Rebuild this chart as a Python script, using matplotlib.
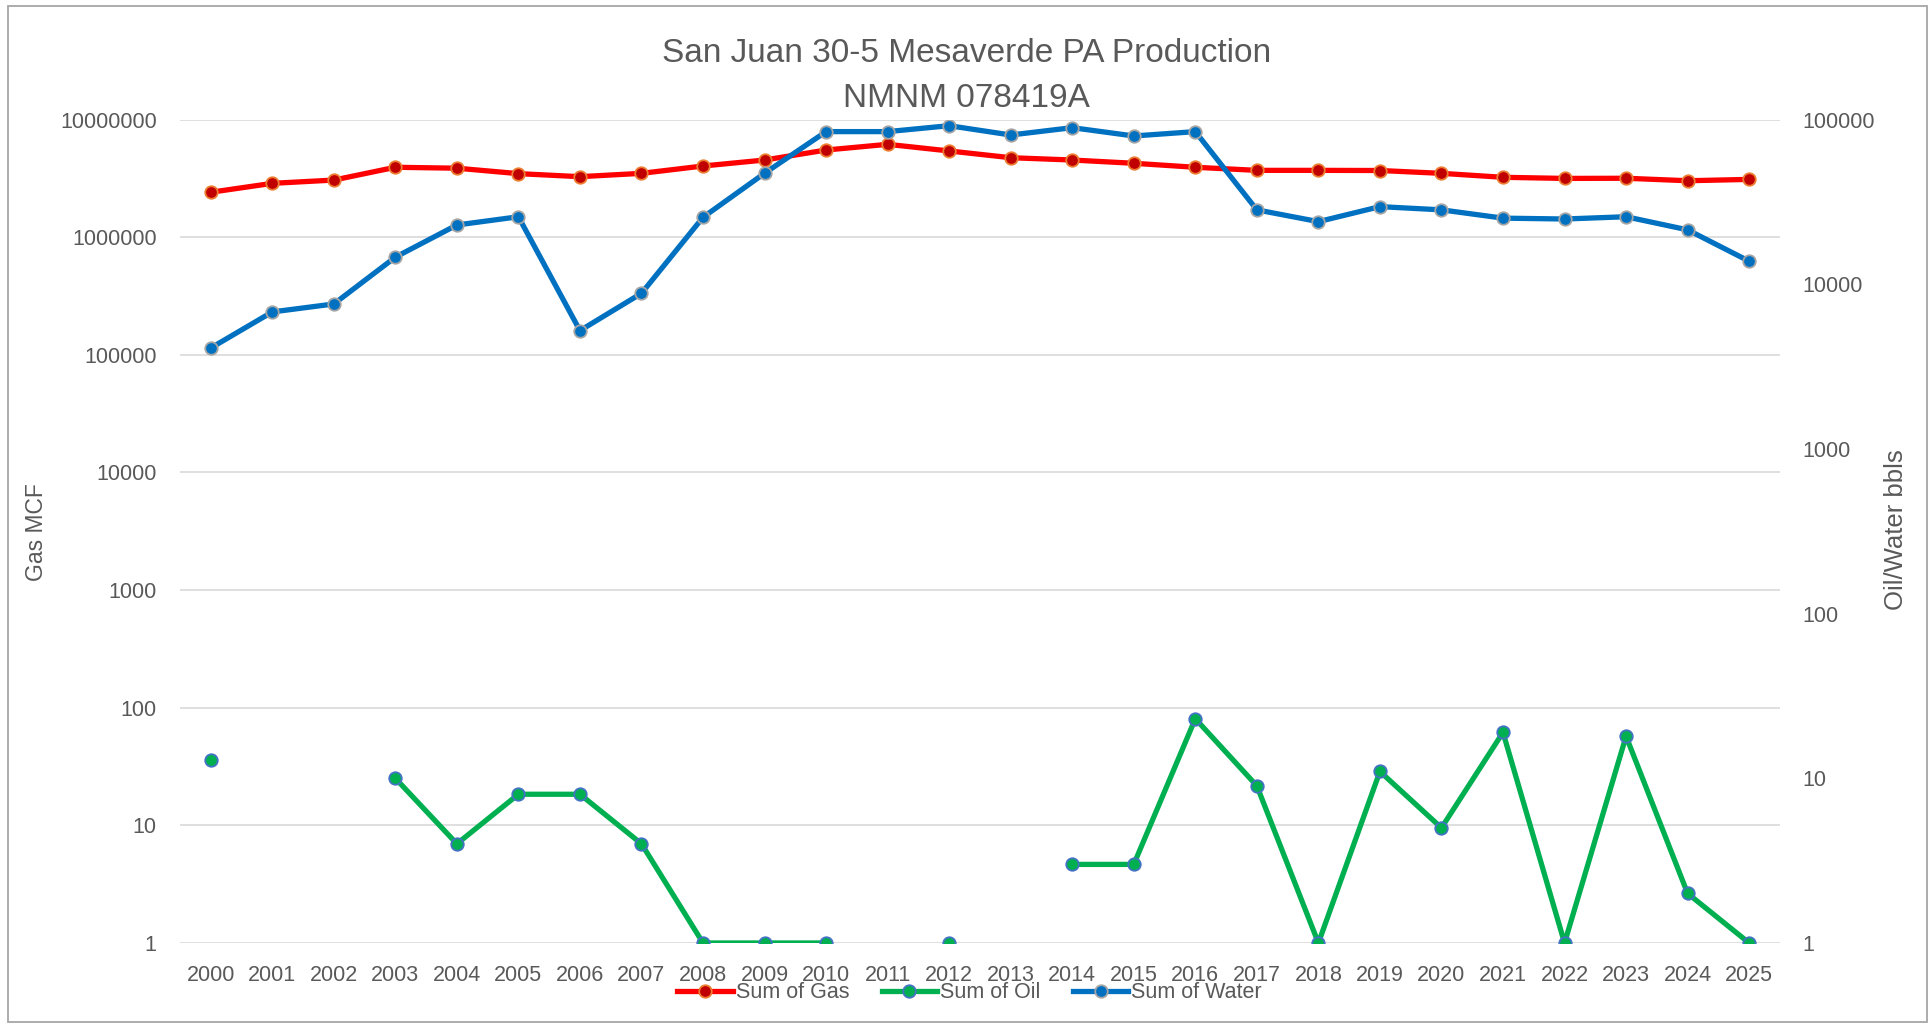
import matplotlib
matplotlib.use('Agg')
import matplotlib.pyplot as plt
import numpy as np
from matplotlib.patches import Rectangle
from matplotlib.ticker import NullLocator

# yearly production data
years = ['2000', '2001', '2002', '2003', '2004', '2005', '2006', '2007', '2008', '2009',
         '2010', '2011', '2012', '2013', '2014', '2015', '2016', '2017', '2018', '2019',
         '2020', '2021', '2022', '2023', '2024', '2025']
gas = [2410000, 2870000, 3060000, 3930000, 3860000, 3470000, 3270000, 3490000, 4030000, 4530000,
       5510000, 6160000, 5410000, 4740000, 4530000, 4250000, 3930000, 3700000, 3700000, 3690000,
       3490000, 3230000, 3160000, 3170000, 3020000, 3100000]
oil = [13, np.nan, np.nan, 10, 4, 8, 8, 4, 1, 1,
       1, np.nan, 1, np.nan, 3, 3, 23, 9, 1, 11,
       5, 19, 1, 18, 2, 1]
water = [4100, 6790, 7590, 14600, 22900, 25700, 5230, 8810, 25500, 47200,
         84500, 84500, 91800, 80600, 89300, 79500, 84500, 28300, 24000, 29600,
         28300, 25200, 24900, 25700, 21400, 13800]

textColor = '#595959'
fontSize = 15.5
plt.rcParams['font.family'] = ['Liberation Sans', 'DejaVu Sans']

fig = plt.figure(figsize=(19.33, 10.29), dpi=100)
ax = fig.add_axes([0.0931, 0.0836, 0.8277, 0.8002])
ax2 = ax.twinx()

x = np.arange(len(years))
lineStyle = dict(lw=3.8, marker='o', ms=9, mew=1.3)
l1, = ax.plot(x, gas, color='#FF0000', mfc='#C00000', mec='#ED7D31', label='Sum of Gas', zorder=3, **lineStyle)
l2, = ax2.plot(x, oil, color='#00B050', mfc='#00B050', mec='#4472C4', label='Sum of Oil', zorder=3, **lineStyle)
l3, = ax2.plot(x, water, color='#0070C0', mfc='#0070C0', mec='#A5A5A5', label='Sum of Water', zorder=4, **lineStyle)

# log axes, left for gas and right for oil/water
ax.set_yscale('log')
ax.set_ylim(1, 1e7)
leftTicks = [10 ** i for i in range(8)]
ax.set_yticks(leftTicks, [str(t) for t in leftTicks])
ax2.set_yscale('log')
ax2.set_ylim(1, 1e5)
rightTicks = [10 ** i for i in range(6)]
ax2.set_yticks(rightTicks, [str(t) for t in rightTicks])
ax.yaxis.set_minor_locator(NullLocator())
ax2.yaxis.set_minor_locator(NullLocator())

ax.set_xlim(-0.5, len(years) - 0.5)
ax.set_xticks(x, years)

ax.grid(axis='y', color='#D9D9D9', lw=1.2)
ax.set_axisbelow(True)
for a in (ax, ax2):
    for s in a.spines.values():
        s.set_visible(False)
ax.tick_params(axis='y', length=0, labelsize=fontSize, colors=textColor, pad=16.8)
ax.tick_params(axis='x', length=0, labelsize=fontSize, colors=textColor, pad=15.5)
ax2.tick_params(axis='y', length=0, labelsize=fontSize, colors=textColor, pad=16)

# two-line title
fig.text(0.5, 0.940, 'San Juan 30-5 Mesaverde PA Production', ha='center', va='baseline',
         fontsize=24, color=textColor)
fig.text(0.5, 0.8963, 'NMNM 078419A', ha='center', va='baseline', fontsize=24, color=textColor)
fig.text(0.019, 0.483, 'Gas MCF', rotation=90, ha='center', va='center', fontsize=16.5, color=textColor)
fig.text(0.981, 0.485, 'Oil/Water bbls', rotation=90, ha='center', va='center', fontsize=18.5, color=textColor)

fig.legend([l1, l2, l3], ['Sum of Gas', 'Sum of Oil', 'Sum of Water'], loc='center',
           bbox_to_anchor=(0.5016, 0.035), ncol=3, frameon=False, fontsize=fontSize, handlelength=2.56,
           handletextpad=0.14, columnspacing=1.52, numpoints=1, labelcolor=textColor)

# chart area border
fig.add_artist(Rectangle((8 / 1933, 1 - 1022 / 1029), 1919 / 1933, 1016 / 1029, transform=fig.transFigure,
                         fill=False, ec='#A6A6A6', lw=1.3))

fig.savefig('out.png', dpi=100)
